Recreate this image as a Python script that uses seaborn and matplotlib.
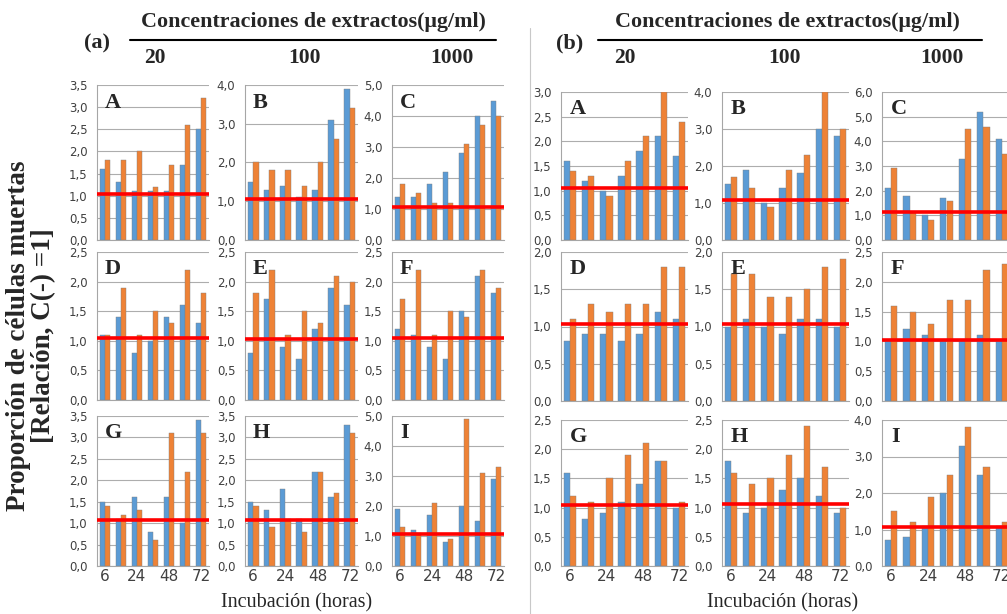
import matplotlib
matplotlib.use("Agg")
import matplotlib.pyplot as plt
import seaborn as sns
import pandas as pd
from matplotlib.ticker import MultipleLocator, FuncFormatter
from matplotlib.lines import Line2D

sns.set_style("white")
plt.rcParams["font.family"] = ["DejaVu Sans"]

# ---------------- data ----------------
letters = ["A", "B", "C", "D", "E", "F", "G", "H", "I"]
x_tick_labels = ["6", "", "24", "", "48", "", "72"]
header_text = "Concentraciones de extractos(μg/ml)"
conc_labels = ["20", "100", "1000"]
ylabel_text = "Proporción de células muertas\n[Relación, C(-) =1]"
xlabel_text = "Incubación (horas)"
half_labels = ["(a)", "(b)"]

a_blue = {
    "A": [1.6, 1.3, 1.1, 1.1, 1.1, 1.7, 2.5],
    "B": [1.5, 1.3, 1.4, 1.1, 1.3, 3.1, 3.9],
    "C": [1.4, 1.4, 1.8, 2.2, 2.8, 4.0, 4.5],
    "D": [1.1, 1.4, 0.8, 1.0, 1.4, 1.6, 1.3],
    "E": [0.8, 1.7, 0.9, 0.7, 1.2, 1.9, 1.6],
    "F": [1.2, 1.1, 0.9, 0.7, 1.5, 2.1, 1.8],
    "G": [1.5, 1.1, 1.6, 0.8, 1.6, 1.0, 3.4],
    "H": [1.5, 1.3, 1.8, 1.1, 2.2, 1.6, 3.3],
    "I": [1.9, 1.2, 1.7, 0.8, 2.0, 1.5, 2.9],
}
a_orange = {
    "A": [1.8, 1.8, 2.0, 1.2, 1.7, 2.6, 3.2],
    "B": [2.0, 1.8, 1.8, 1.4, 2.0, 2.6, 3.4],
    "C": [1.8, 1.5, 1.2, 1.2, 3.1, 3.7, 4.0],
    "D": [1.1, 1.9, 1.1, 1.5, 1.3, 2.2, 1.8],
    "E": [1.8, 2.2, 1.1, 1.5, 1.3, 2.1, 2.0],
    "F": [1.7, 2.2, 1.1, 1.5, 1.4, 2.2, 1.9],
    "G": [1.4, 1.2, 1.3, 0.6, 3.1, 2.2, 3.1],
    "H": [1.4, 0.9, 1.1, 0.8, 2.2, 1.7, 3.1],
    "I": [1.3, 1.1, 2.1, 0.9, 4.9, 3.1, 3.3],
}
a_ref = [1.04, 1.07, 1.05, 1.04, 1.03, 1.05, 1.07, 1.07, 1.08]
a_ymax = [3.5, 4.0, 5.0, 2.5, 2.5, 2.5, 3.5, 3.5, 5.0]
a_ystep = [0.5, 1.0, 1.0, 0.5, 0.5, 0.5, 0.5, 0.5, 1.0]

b_blue = {
    "A": [1.6, 1.2, 1.0, 1.3, 1.8, 2.1, 1.7],
    "B": [1.5, 1.9, 1.0, 1.4, 1.8, 3.0, 2.8],
    "C": [2.1, 1.8, 1.0, 1.7, 3.3, 5.2, 4.1],
    "D": [0.8, 0.9, 0.9, 0.8, 0.9, 1.2, 1.1],
    "E": [1.0, 1.1, 1.0, 0.9, 1.1, 1.1, 1.0],
    "F": [1.0, 1.2, 1.1, 1.0, 1.0, 1.1, 1.0],
    "G": [1.6, 0.8, 0.9, 1.1, 1.4, 1.8, 1.0],
    "H": [1.8, 0.9, 1.0, 1.3, 1.5, 1.2, 0.9],
    "I": [0.7, 0.8, 1.1, 2.0, 3.3, 2.5, 1.1],
}
b_orange = {
    "A": [1.4, 1.3, 0.9, 1.6, 2.1, 3.0, 2.4],
    "B": [1.7, 1.4, 0.9, 1.9, 2.3, 4.0, 3.0],
    "C": [2.9, 1.1, 0.8, 1.6, 4.5, 4.6, 3.5],
    "D": [1.1, 1.3, 1.2, 1.3, 1.3, 1.8, 1.8],
    "E": [1.7, 1.7, 1.4, 1.4, 1.5, 1.8, 1.9],
    "F": [1.6, 1.5, 1.3, 1.7, 1.7, 2.2, 2.3],
    "G": [1.2, 1.1, 1.5, 1.9, 2.1, 1.8, 1.1],
    "H": [1.6, 1.4, 1.5, 1.9, 2.4, 1.7, 1.0],
    "I": [1.5, 1.2, 1.9, 2.5, 3.8, 2.7, 1.2],
}
b_ref = [1.05, 1.08, 1.12, 1.04, 1.04, 1.03, 1.05, 1.07, 1.08]
b_ymax = [3.0, 4.0, 6.0, 2.0, 2.0, 2.5, 2.5, 2.5, 4.0]
b_ystep = [0.5, 1.0, 1.0, 0.5, 0.5, 0.5, 0.5, 0.5, 1.0]

# ---------------- layout (pixels) ----------------
W, H = 1007, 614
BLUE = "#5B9BD5"
ORANGE = "#EE8236"
SERIF = ["Liberation Serif", "DejaVu Serif"]

halves = [
    dict(blue=a_blue, orange=a_orange, ref=a_ref, ymax=a_ymax, ystep=a_ystep,
         cols=[(97, 209), (245, 358), (392, 504)],
         rows=[(85, 240), (252, 400), (416, 566)]),
    dict(blue=b_blue, orange=b_orange, ref=b_ref, ymax=b_ymax, ystep=b_ystep,
         cols=[(561, 688), (722, 849), (882, 1011)],
         rows=[(92, 240), (252, 401), (420, 566)]),
]

fig = plt.figure(figsize=(W / 100, H / 100), dpi=100)


def px_axes(x0, x1, ytop, ybot):
    return fig.add_axes([x0 / W, 1 - ybot / H, (x1 - x0) / W, (ybot - ytop) / H])


fmt = FuncFormatter(lambda v, p: f"{v:.1f}".replace(".", ","))

for h in halves:
    for i, L in enumerate(letters):
        r, c = divmod(i, 3)
        x0, x1 = h["cols"][c]
        yt, yb = h["rows"][r]
        ax = px_axes(x0, x1, yt, yb)
        df = pd.DataFrame({
            "g": list(range(7)) * 2,
            "serie": ["azul"] * 7 + ["naranja"] * 7,
            "v": h["blue"][L] + h["orange"][L],
        })
        sns.barplot(data=df, x="g", y="v", hue="serie", palette=[BLUE, ORANGE],
                    width=0.68, gap=0, saturation=1, legend=False, ax=ax,
                    edgecolor="#7f7f7f", linewidth=0.3)
        ax.axhline(h["ref"][i], color="#FF0000", lw=2.6, zorder=5)
        ax.set_xlim(-0.5, 6.5)
        ax.set_ylim(0, h["ymax"][i])
        ax.yaxis.set_major_locator(MultipleLocator(h["ystep"][i]))
        ax.yaxis.set_major_formatter(fmt)
        ax.grid(axis="y", color="#ADADAD", lw=0.8)
        ax.set_axisbelow(True)
        for s in ["top", "right"]:
            ax.spines[s].set_visible(False)
        for s in ["left", "bottom"]:
            ax.spines[s].set_color("#A6A6A6")
            ax.spines[s].set_linewidth(0.8)
        ax.tick_params(axis="y", length=3, color="#A6A6A6", labelsize=8.5,
                       labelcolor="#404040", pad=4)
        ax.set_xlabel("")
        ax.set_ylabel("")
        if r == 2:
            ax.set_xticks(range(7))
            ax.set_xticklabels(x_tick_labels)
            ax.tick_params(axis="x", length=0, labelsize=11, labelcolor="#404040", pad=2)
        else:
            ax.set_xticks([])
        ax.text(0.07, 0.95, L, transform=ax.transAxes, ha="left", va="top",
                fontsize=16, fontweight="bold", family=SERIF)


# ---------------- headers & labels ----------------
def ftext(x, y, s, **kw):
    fig.text(x / W, 1 - y / H, s, **kw)


header_cfg = [
    dict(cx=313, line=(130, 496), lab_x=97, conc_x=(155, 304, 452), xl_x=297),
    dict(cx=787, line=(598, 982), lab_x=570, conc_x=(625, 785, 942), xl_x=783),
]
for k, cfg in enumerate(header_cfg):
    ftext(cfg["cx"], 22, header_text, ha="center", va="center", fontsize=15.8,
          fontweight="bold", family=SERIF)
    fig.add_artist(Line2D([cfg["line"][0] / W, cfg["line"][1] / W], [1 - 40 / H, 1 - 40 / H],
                          color="black", lw=1.5))
    ftext(cfg["lab_x"], 43, half_labels[k], ha="center", va="center", fontsize=16,
          fontweight="bold", family=SERIF)
    for s, xx in zip(conc_labels, cfg["conc_x"]):
        ftext(xx, 58, s, ha="center", va="center", fontsize=15.5, fontweight="bold", family=SERIF)
    ftext(cfg["xl_x"], 603, xlabel_text, ha="center", va="center", fontsize=14.5, family=SERIF)

ftext(31, 336, ylabel_text, ha="center", va="center", rotation=90, fontsize=19.5,
      fontweight="bold", family=SERIF, linespacing=1.0)

fig.add_artist(Line2D([530 / W, 530 / W], [0, 1 - 28 / H], color="#C8C8C8", lw=0.8))

fig.savefig("out.png", dpi=100)
